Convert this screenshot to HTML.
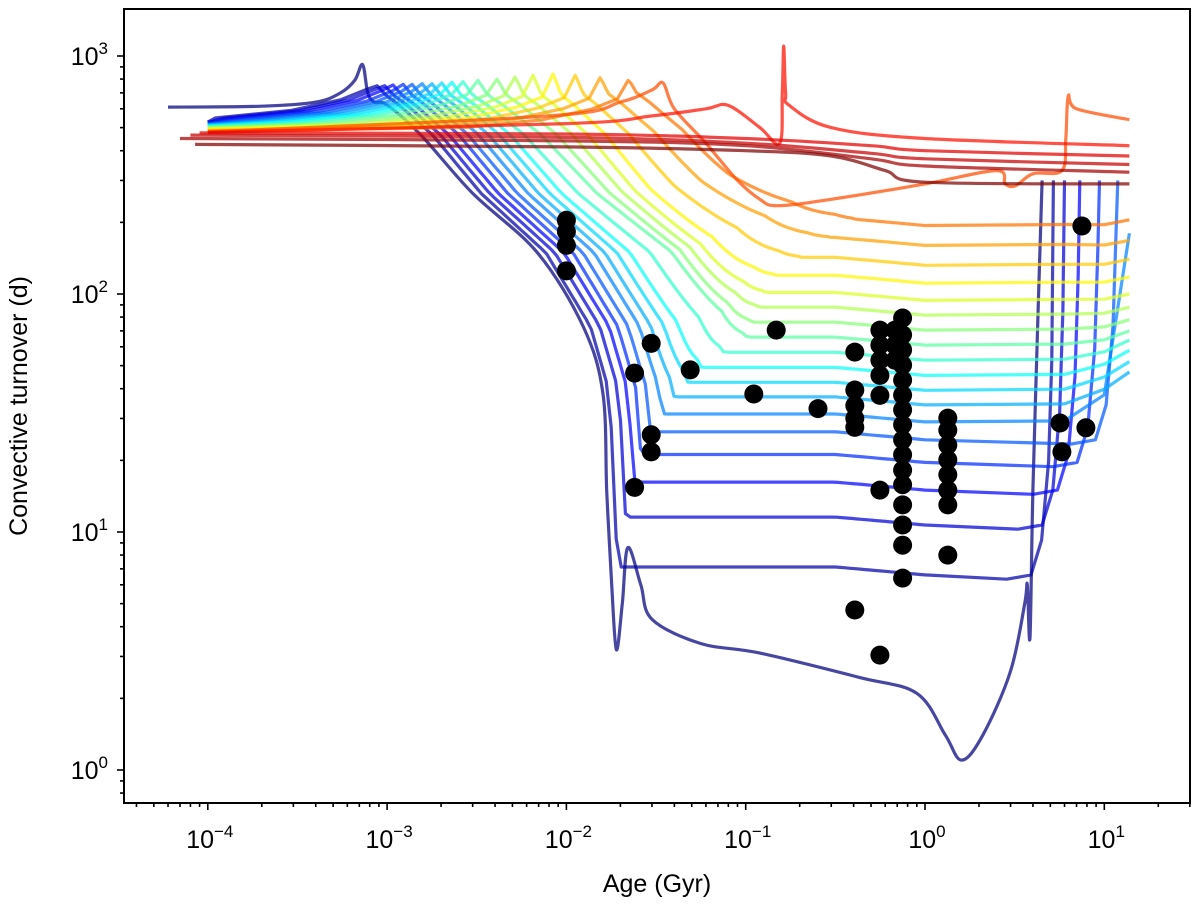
<!DOCTYPE html>
<html><head><meta charset="utf-8">
<style>
html,body{margin:0;padding:0;background:#fff;}
svg{display:block;font-family:"Liberation Sans","DejaVu Sans",sans-serif;}
</style></head>
<body>
<svg id="chart" width="1200" height="909" viewBox="0 0 1200 909" xmlns="http://www.w3.org/2000/svg">
<rect x="0" y="0" width="1200" height="909" fill="#fff"/>
<g id="tracks"></g>
<g id="dots"></g>
<g id="axes"></g>
<rect x="124" y="9" width="1066" height="794" fill="none" stroke="#000" stroke-width="2"/>
<text x="657" y="892" font-size="25" text-anchor="middle">Age (Gyr)</text>
<text transform="translate(27,406) rotate(-90)" font-size="25" text-anchor="middle">Convective turnover (d)</text>
</svg>
<script>
// ---- data ----
const xTickExps = [-4, -3, -2, -1, 0, 1];
const yTickExps = [0, 1, 2, 3];
// descending tracks (index 0 listed explicitly as track0)
const startTaus = [610,528,526,524,521,518,516,513,510,508,505,502,500,497,494,491,488,485,482];
const peakAges = [7.3e-4,8.8e-4,9.7e-4,1.08e-3,1.23e-3,1.38e-3,1.57e-3,1.78e-3,2.02e-3,2.30e-3,2.65e-3,3.21e-3,4.10e-3,5.17e-3,6.51e-3,8.42e-3,0.0112,0.0154,0.0221];
const peakTaus = [920,750,750,755,760,760,765,765,770,775,780,790,800,815,830,840,830,810,790];
const crossAges = [6.85e-3,7.69e-3,8.63e-3,9.70e-3,0.01089,0.01238,0.01427,0.01642,0.01915,0.0226,0.0292,0.0383,0.0430,0.0489,0.0556,0.0650,0.0890,0.128,0.180];
const plateauTaus = [2.9,6.6,10.7,15,19.6,24.4,29,34.2,39.4,45.5,52.7,61,70.5,81.5,94,111,132,160,194];
const kneeSharpness = [10,10,8,7,6,5.5,5,4.5,4.2,4,3.8,3.6,3.4,3.2,3,2.8,2.6,2.5,2.4];
const riseAges = [4.5,5.2,6.0,7.3,9.4,11.9,0,0,0,0,0,0,0,0,0,0,0,0,0];
const endTaus = [300,300,300,300,300,300,180,47,52,58,64,70,78,88,100,118,140,168,205];
// shared descent profile (u: 0 = peak, 1 = crossing of 150 d)
const profileU = [0,0.05,0.13,0.328,0.615,1,1.264,1.379,1.402,1.43,1.46,1.5];
const profileTau = [750,686,622,466,265,149,73,38,14.6,6,2,0.5];
const track0 = [[6e-5,610],[2e-4,615],[4e-4,640],[5.5e-4,700],[6.6e-4,790],[7.3e-4,920],[7.8e-4,700],[8.5e-4,640],[1e-3,622],[1.54e-3,466],[3.0e-3,265],[6.9e-3,149],[0.0124,73],[0.016,38],[0.0168,14.6],[0.0179,6],[0.019,3.2],[0.0205,5],[0.022,8.6],[0.026,6],[0.03,4.3],[0.056,3.4],[0.12,3.1],[0.43,2.45],[0.9,2.1],[1.3,1.4],[1.6,1.1],[2.1,1.4],[3,2.6],[3.6,5],[3.72,6],[3.85,3.6],[4.0,15],[4.3,100],[4.5,300]];
const trackO2 = [[1e-4,480],[0.008,560],[0.02,640],[0.03,720],[0.0346,770],[0.04,600],[0.06,430],[0.09,300],[0.12,250],[0.15,235],[0.3,250],[1,290],[2.5,330],[2.8,290],[3.2,285],[4,320],[5.8,330],[6.1,450],[6.3,680],[7,600],[13.8,540]];
const trackO1 = [[1e-4,478],[0.01,520],[0.03,560],[0.06,600],[0.08,620],[0.12,500],[0.155,430],[0.16,700],[0.163,1100],[0.167,700],[0.175,620],[0.3,500],[1,450],[13.8,420]];
const trackR1 = [[9e-5,475],[0.01,470],[0.1,450],[0.5,420],[1,400],[13.8,380]];
const trackR2 = [[8e-5,465],[0.01,455],[0.1,430],[0.5,390],[1,370],[13.8,350]];
const trackR3 = [[7e-5,450],[0.01,440],[0.1,420],[0.5,370],[1,345],[13.8,325]];
const trackR4 = [[8.5e-5,425],[0.01,415],[0.1,400],[0.3,380],[0.6,330],[1,295],[13.8,290]];
const extraTracks = [trackO2, trackO1, trackR1, trackR2, trackR3, trackR4];
const extraColors = [0.8, 0.86, 0.9, 0.93, 0.96, 1.0];
const starAges = [0.01,0.01,0.01,0.01,0.024,0.0297,0.0297,0.0297,0.024,0.049,0.148,0.111,0.253,0.406,0.406,0.406,0.406,0.406,0.406,0.56,0.56,0.56,0.56,0.56,0.56,0.56,0.68,0.68,0.68,0.75,0.75,0.75,0.75,0.75,0.75,0.75,0.75,0.75,0.75,0.75,0.75,0.75,0.75,0.75,0.75,1.34,1.34,1.34,1.34,1.34,1.34,1.34,1.34,5.66,5.8,7.9,7.5];
const starTaus = [204,183,160,125,46.5,62,25.6,21.7,15.4,48,70.5,38,33,57,39.5,34,30,27.5,4.7,3.04,15,37.5,70.5,61,52.7,45.5,70.5,61,52.7,79.3,67.3,58.2,50.3,43.5,37.6,32.6,28.2,24.4,21.1,18.2,15.8,13.0,10.7,8.8,6.4,30.1,26.8,23.2,20.1,17.4,15,13,8.0,28.7,21.7,27.4,193];

// ---- scales ----
const X0 = 925, XD = 179.3, Y0 = 770, YD = 238;
function sx(a){ return X0 + Math.log10(a)*XD; }
function sy(t){ return Y0 - Math.log10(t)*YD; }
function jet(t){
  const c = v => Math.max(0, Math.min(1, v));
  const r = c(1.5 - Math.abs(4*t-3)), g = c(1.5 - Math.abs(4*t-2)), b = c(1.5 - Math.abs(4*t-1));
  return `rgb(${Math.round(r*255)},${Math.round(g*255)},${Math.round(b*255)})`;
}
function profileAt(u){
  if (u >= profileU[profileU.length-1]) return profileTau[profileTau.length-1];
  for (let k = 1; k < profileU.length; k++) {
    if (u <= profileU[k]) {
      const f = (u - profileU[k-1]) / (profileU[k] - profileU[k-1]);
      return Math.pow(10, Math.log10(profileTau[k-1]) + f*(Math.log10(profileTau[k]) - Math.log10(profileTau[k-1])));
    }
  }
  return profileTau[profileTau.length-1];
}
function buildTrack(i){
  const P = peakAges[i], K = crossAges[i], L = plateauTaus[i], n = kneeSharpness[i];
  const lp = Math.log10(P), lk = Math.log10(K);
  const pts = [[1e-4, startTaus[i]]];
  [[8,startTaus[i]*1.04],[3,startTaus[i]*1.12],[1.6,startTaus[i]*1.24],[1.15,startTaus[i]*1.37]].forEach(q => { if (P/q[0] > 1.05e-4) pts.push([P/q[0], q[1]]); });
  pts.push([P, peakTaus[i]]);
  const steps = 110;
  for (let s = 1; s <= steps; s++) {
    const la = lp + s/steps * (0 - lp);
    const u = (la - lp) / (lk - lp);
    const T = u < 0.05 ? peakTaus[i] + (profileAt(0.05) - peakTaus[i]) * (u/0.05) : profileAt(u);
    const Lc = L * (la < -0.5 ? 1.08 : 1.08 - 0.08*(la + 0.5)/0.5);
    const tau = Math.pow(Math.pow(T, n) + Math.pow(Lc, n), 1/n);
    pts.push([Math.pow(10, la), tau]);
  }
  const R = riseAges[i];
  if (R > 0) {
    pts.push([R*0.55, L*0.96]);
    pts.push([R*0.75, L*1.0]);
    pts.push([R*0.86, L*1.4]);
    pts.push([R*0.94, L*3]);
    pts.push([R*0.98, L*8]);
    pts.push([R, endTaus[i]]);
  } else {
    pts.push([6, L*1.01]);
    pts.push([10, endTaus[i] > L*1.5 ? L*1.3 : (L + endTaus[i])/2*0.98]);
    pts.push([13.8, endTaus[i]]);
  }
  return pts;
}
const NS = 'http://www.w3.org/2000/svg';
const tg = document.getElementById('tracks');
function drawPath(tr, color, smooth){
  const p = document.createElementNS(NS, 'path');
  const pts = tr.map(q => [sx(q[0]), sy(q[1])]);
  let d = 'M' + pts[0][0].toFixed(1) + ',' + pts[0][1].toFixed(1);
  for (let k = 1; k < pts.length; k++) {
    if (!smooth) { d += ' L' + pts[k][0].toFixed(1) + ',' + pts[k][1].toFixed(1); continue; }
    const p0 = pts[Math.max(0,k-2)], p1 = pts[k-1], p2 = pts[k], p3 = pts[Math.min(pts.length-1,k+1)];
    const c1x = p1[0] + (p2[0]-p0[0])/6, c1y = p1[1] + (p2[1]-p0[1])/6;
    const c2x = p2[0] - (p3[0]-p1[0])/6, c2y = p2[1] - (p3[1]-p1[1])/6;
    d += ` C${c1x.toFixed(1)},${c1y.toFixed(1)} ${c2x.toFixed(1)},${c2y.toFixed(1)} ${p2[0].toFixed(1)},${p2[1].toFixed(1)}`;
  }
  p.setAttribute('d', d);
  p.setAttribute('fill', 'none');
  p.setAttribute('stroke', color);
  p.setAttribute('stroke-opacity', '0.72');
  p.setAttribute('stroke-width', '3.2');
  p.setAttribute('stroke-linejoin', 'round');
  
  
  tg.appendChild(p);
}
for (let i = 0; i < peakAges.length; i++) {
  if (i === 0) drawPath(track0, jet(0), true);
  else drawPath(buildTrack(i), jet(i/(peakAges.length-1)*0.76), false);
}
extraTracks.forEach((tr, j) => drawPath(tr, jet(extraColors[j]), true));

const dg = document.getElementById('dots');
starAges.forEach((a, i) => {
  const c = document.createElementNS(NS, 'circle');
  c.setAttribute('cx', sx(a).toFixed(1));
  c.setAttribute('cy', sy(starTaus[i]).toFixed(1));
  c.setAttribute('r', '9.5');
  c.setAttribute('fill', '#000');
  
  
  dg.appendChild(c);
});
const ag = document.getElementById('axes');
function line(x1,y1,x2,y2,name){
  const l = document.createElementNS(NS,'line');
  l.setAttribute('x1',x1);l.setAttribute('y1',y1);l.setAttribute('x2',x2);l.setAttribute('y2',y2);
  l.setAttribute('stroke','#000');l.setAttribute('stroke-width','1.6');
  
  
  ag.appendChild(l);
}
function label(x,y,exp,anchor,name){
  const t = document.createElementNS(NS,'text');
  t.setAttribute('x',x);t.setAttribute('y',y);t.setAttribute('font-size','25');t.setAttribute('text-anchor',anchor);
  t.innerHTML = '10<tspan font-size="17" dy="-11">' + (exp<0?'\u2212'+(-exp):exp) + '</tspan>';
  
  
  ag.appendChild(t);
}
for (let e = -5; e <= 1; e++) {
  for (let m = 1; m <= 9; m++) {
    const x = sx(m*Math.pow(10,e));
    if (x < 124 || x > 1190) continue;
    line(x,803,x,803+(m===1?7:4),'x-tick');
  }
}
xTickExps.forEach(e => label(sx(Math.pow(10,e))+2, 848, e, 'middle', 'x-tick-label'));
for (let e = -1; e <= 3; e++) {
  for (let m = 1; m <= 9; m++) {
    const y = sy(m*Math.pow(10,e));
    if (y < 9 || y > 803) continue;
    line(124-(m===1?7:4),y,124,y,'y-tick');
  }
}
yTickExps.forEach(e => label(108, sy(Math.pow(10,e))+9, e, 'end', 'y-tick-label'));
</script>
</body></html>
